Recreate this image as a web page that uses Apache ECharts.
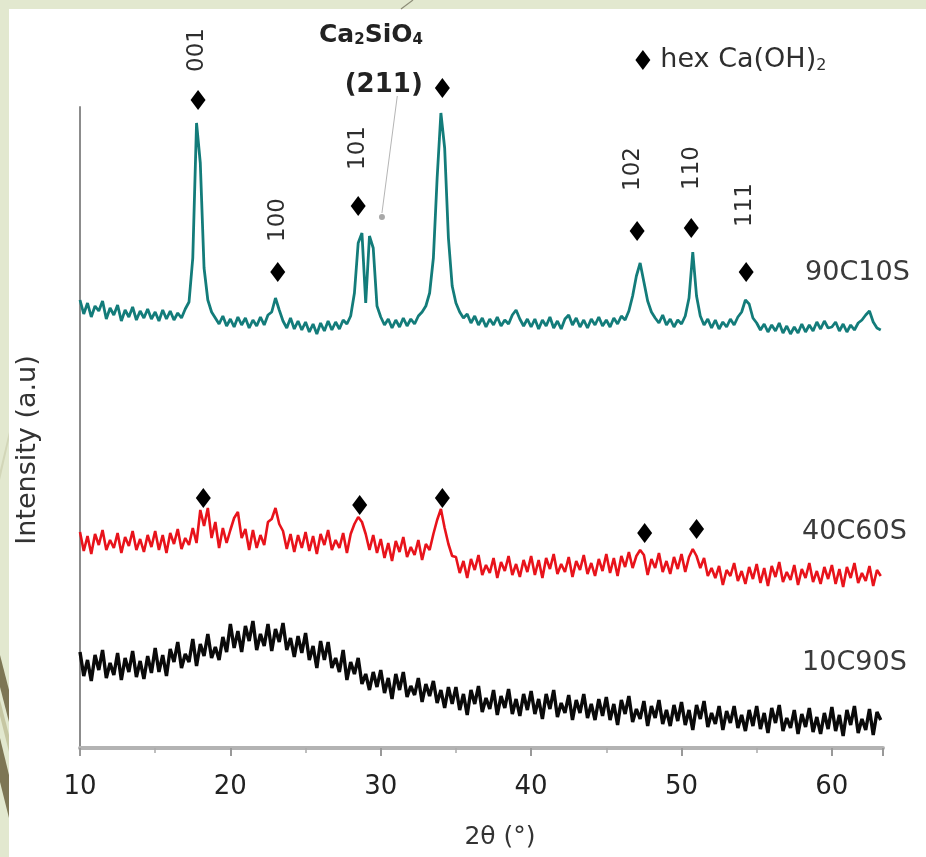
<!DOCTYPE html>
<html>
<head>
<meta charset="utf-8">
<script src="https://cdn.jsdelivr.net/npm/echarts@6/dist/echarts.min.js"></script>
<style>
html,body{margin:0;padding:0;background:#fff;}
#chart{width:926px;height:857px;}
</style>
</head>
<body>
<div id="chart"></div>
<script>
// 2θ sampling (degrees)
const twoTheta = [
10,10.25,10.5,10.75,11,11.25,11.5,11.75,12,12.25,12.5,12.75,13,13.25,13.5,13.75,14,14.25,14.5,14.75,
15,15.25,15.5,15.75,16,16.25,16.5,16.75,17,17.25,17.5,17.75,18,18.25,18.5,18.75,19,19.25,19.5,19.75,
20,20.25,20.5,20.75,21,21.25,21.5,21.75,22,22.25,22.5,22.75,23,23.25,23.5,23.75,24,24.25,24.5,24.75,
25,25.25,25.5,25.75,26,26.25,26.5,26.75,27,27.25,27.5,27.75,28,28.25,28.5,28.75,29,29.25,29.5,29.75,
30,30.25,30.5,30.75,31,31.25,31.5,31.75,32,32.25,32.5,32.75,33,33.25,33.5,33.75,34,34.25,34.5,34.75,
35,35.25,35.5,35.75,36,36.25,36.5,36.75,37,37.25,37.5,37.75,38,38.25,38.5,38.75,39,39.25,39.5,39.75,
40,40.25,40.5,40.75,41,41.25,41.5,41.75,42,42.25,42.5,42.75,43,43.25,43.5,43.75,44,44.25,44.5,44.75,
45,45.25,45.5,45.75,46,46.25,46.5,46.75,47,47.25,47.5,47.75,48,48.25,48.5,48.75,49,49.25,49.5,49.75,
50,50.25,50.5,50.75,51,51.25,51.5,51.75,52,52.25,52.5,52.75,53,53.25,53.5,53.75,54,54.25,54.5,54.75,
55,55.25,55.5,55.75,56,56.25,56.5,56.75,57,57.25,57.5,57.75,58,58.25,58.5,58.75,59,59.25,59.5,59.75,
60,60.25,60.5,60.75,61,61.25,61.5,61.75,62,62.25,62.5,62.75,63,63.25
];

// Intensities (a.u., stacked offsets as in the figure)
const int90C10S = [
448,434,445,431,442,437,447,429,440,433,443,427,438,431,441,428,437,430,439,429,
436,427,438,429,437,428,435,430,439,446,490,625,585,480,448,436,430,424,432,422,
429,421,431,423,430,420,428,422,431,423,433,436,450,438,427,420,430,419,427,418,
426,416,424,414,425,417,427,418,426,419,428,424,432,455,505,515,445,512,500,442,
431,423,429,420,428,421,430,422,429,424,432,436,442,455,490,570,635,600,510,462,
445,436,430,434,425,432,423,430,421,429,423,431,422,428,424,433,438,429,422,429,
421,429,419,428,422,431,420,427,419,429,433,423,430,421,428,420,429,423,431,422,
428,421,430,424,432,428,437,452,472,485,466,447,436,430,425,433,423,429,421,428,
424,432,450,496,452,432,423,429,420,428,419,426,421,429,423,431,436,448,444,430,
425,418,424,416,423,417,425,415,422,414,421,415,424,416,423,417,426,419,427,420,
421,426,417,424,416,423,418,425,428,433,437,426,420,418
];
const int40C60S = [
216,197,212,194,214,203,218,198,208,200,215,195,211,202,217,198,209,196,213,201,
217,198,213,195,215,204,219,199,210,203,220,205,238,222,240,210,226,200,220,205,
218,230,236,210,219,198,218,200,213,203,226,229,240,224,217,199,214,196,213,200,
216,197,212,194,214,203,218,198,208,200,215,195,214,224,231,226,214,198,213,195,
209,190,205,187,207,196,211,191,201,193,208,188,204,198,214,228,239,220,204,192,
191,175,187,170,189,178,193,173,183,175,190,170,186,177,192,173,184,171,188,176,
192,173,188,170,190,179,194,174,184,176,191,171,187,178,193,174,185,172,189,177,
194,175,190,172,192,181,196,180,192,198,193,173,189,180,195,176,187,174,191,179,
194,176,191,199,192,180,190,172,180,170,182,163,178,172,185,167,177,164,181,169,
184,165,180,162,182,171,186,166,176,168,183,163,179,170,185,166,177,164,181,169,
183,164,179,161,181,170,185,165,175,167,182,162,178,172
];
const int10C90S = [
96,72,88,67,93,78,98,70,85,73,95,68,90,76,97,71,87,69,92,75,
100,76,93,72,99,86,106,80,94,86,109,82,104,92,114,90,101,88,111,96,
124,100,117,96,122,107,127,98,114,102,124,97,119,106,125,98,110,91,112,95,
115,88,102,80,107,88,106,80,90,76,98,68,86,74,90,64,74,58,76,61,
78,55,70,49,74,58,76,51,62,53,70,46,64,52,67,45,58,40,61,44,
61,38,54,33,58,44,62,36,50,39,58,33,52,40,59,34,49,32,54,38,
57,34,49,29,54,39,58,31,45,35,53,28,48,35,54,30,44,28,49,32,
51,28,44,23,48,34,52,26,39,29,47,22,42,30,48,24,38,22,43,27,
46,23,38,18,43,29,47,21,35,24,42,18,37,25,42,20,33,17,38,22,
42,19,35,15,40,25,43,17,30,20,38,14,34,21,40,16,31,14,35,19,
41,17,33,12,38,23,42,15,29,18,39,13,36,28
];

const sampleNames = ['90C10S', '40C60S', '10C90S'];
const sampleLabelAt = [[61.7, 475], [61.5, 216], [61.5, 85]];

// hex Ca(OH)2 reflections (diamond markers)
const caohMarks90 = [[17.85, 648], [23.15, 476], [28.5, 542], [34.1, 660], [47.05, 517], [50.65, 520], [54.3, 476]];
const caohMarks40 = [[18.2, 250], [28.6, 243], [34.1, 250], [47.55, 215], [51.0, 219]];
const hklText = ['001', '100', '101', '102', '110', '111'];
const hklAt = [[17.8, 698], [23.15, 528], [28.5, 600], [46.8, 579], [50.7, 580], [54.2, 543]];

// Ca2SiO4 (211) annotation
const ca2sio4Mark = [[30.08, 531]];
const ca2sio4Leader = [[30.08, 535], [31.1, 652]];
const ca2sio4LabelAt = [[29.35, 713], [30.2, 663]];
const legendMark = [[47.43, 688]];
const legendText = 'hex Ca(OH)';

const FONT = 'DejaVu Sans';
const TXT = '#2e2e2e';
const pairs = arr => twoTheta.map((t, i) => [t, arr[i]]);

const chart = echarts.init(document.getElementById('chart'), null, {renderer: 'canvas'});

const option = {
  backgroundColor: '#ffffff',
  animation: false,
  grid: {left: 80, right: 43, top: 107, bottom: 109},
  xAxis: {
    type: 'value', min: 10, max: 63.4, interval: 10,
    axisLine: {show: true, lineStyle: {color: '#b3b3b3', width: 4}},
    axisTick: {show: true, length: 8, lineStyle: {color: '#999', width: 2}},
    minorTick: {show: true, splitNumber: 2, length: 5, lineStyle: {color: '#aaa', width: 1.5}},
    axisLabel: {fontSize: 26, color: '#222', fontFamily: FONT, margin: 26, showMaxLabel: false},
    splitLine: {show: false}
  },
  yAxis: {
    type: 'value', min: 0, max: 641,
    axisLine: {show: true, onZero: false, lineStyle: {color: '#8c8c8c', width: 2}},
    axisTick: {show: false},
    axisLabel: {show: false},
    splitLine: {show: false}
  },
  graphic: {elements: [
    {type: 'rect', shape: {x: 0, y: 0, width: 926, height: 9}, style: {fill: '#e2e8cf'}},
    {type: 'rect', shape: {x: 0, y: 0, width: 9, height: 857}, style: {fill: '#e2e8cf'}},
    {type: 'polygon', shape: {points: [[0, 470], [9, 432], [9, 440], [0, 480]]}, style: {fill: '#d2d6b8'}},
    {type: 'polygon', shape: {points: [[0, 655], [9, 690], [9, 722], [0, 687]]}, style: {fill: '#7d7655'}},
    {type: 'polygon', shape: {points: [[0, 700], [9, 735], [9, 752], [0, 716]]}, style: {fill: '#c6c7a3'}},
    {type: 'polygon', shape: {points: [[0, 738], [9, 775], [9, 818], [0, 782]]}, style: {fill: '#7d7655'}},
    {type: 'line', shape: {x1: 413, y1: 0, x2: 401, y2: 9}, style: {stroke: '#8d8d78', lineWidth: 1.2}},
    {type: 'text', x: 28, y: 450, rotation: Math.PI / 2,
      style: {text: 'Intensity (a.u)', fontSize: 27, fontFamily: FONT, fill: '#333', align: 'center', verticalAlign: 'middle'}},
    {type: 'text', x: 500, y: 837,
      style: {text: '2θ (°)', fontSize: 25, fontFamily: FONT, fill: '#333', align: 'center', verticalAlign: 'middle'}}
  ]},
  series: [
    {name: sampleNames[2], type: 'line', data: pairs(int10C90S), showSymbol: false, silent: true,
      lineStyle: {color: '#0a0a0a', width: 3.4}, z: 2},
    {name: sampleNames[1], type: 'line', data: pairs(int40C60S), showSymbol: false, silent: true,
      lineStyle: {color: '#e8131b', width: 2.6}, z: 3},
    {name: sampleNames[0], type: 'line', data: pairs(int90C10S), showSymbol: false, silent: true,
      lineStyle: {color: '#137c7a', width: 2.8}, z: 4},
    {type: 'line', data: ca2sio4Leader, showSymbol: false, silent: true, clip: false,
      lineStyle: {color: '#b5b5b5', width: 1}, z: 5},
    {type: 'scatter', data: ca2sio4Mark, symbol: 'circle', symbolSize: 6, silent: true, clip: false,
      itemStyle: {color: '#a8a8a8', opacity: 1}, z: 6},
    {type: 'scatter', data: caohMarks90.concat(caohMarks40), symbol: 'diamond', symbolSize: [15, 20],
      silent: true, clip: false, itemStyle: {color: '#000', opacity: 1}, z: 7},
    {type: 'scatter', data: legendMark, symbol: 'diamond', symbolSize: [15, 20], silent: true, clip: false,
      itemStyle: {color: '#000', opacity: 1}, z: 7,
      label: {show: true, position: 'right', distance: 10, opacity: 1, formatter: '{n|' + legendText + '}{s|2}',
        rich: {n: {fontSize: 27, fontFamily: FONT, color: TXT},
               s: {fontSize: 16, fontFamily: FONT, color: TXT, verticalAlign: 'bottom'}}}},
    {type: 'scatter', symbolSize: 0, silent: true, clip: false, z: 8, itemStyle: {opacity: 1},
      data: hklAt.map((p, i) => ({value: p, label: {formatter: hklText[i]}})),
      label: {show: true, position: 'inside', rotate: 90, opacity: 1, fontSize: 23, fontFamily: FONT, color: TXT}},
    {type: 'scatter', symbolSize: 0, silent: true, clip: false, z: 8, itemStyle: {opacity: 1},
      data: sampleLabelAt.map((p, i) => ({value: p, label: {formatter: sampleNames[i]}})),
      label: {show: true, position: 'inside', opacity: 1, fontSize: 27, fontFamily: FONT, color: '#3a3a3a'}},
    {type: 'scatter', symbolSize: 0, silent: true, clip: false, z: 8, itemStyle: {opacity: 1},
      data: [
        {value: ca2sio4LabelAt[0], label: {formatter: '{b|Ca}{s|2}{b|SiO}{s|4}'}},
        {value: ca2sio4LabelAt[1], label: {formatter: '{p|(211)}'}}
      ],
      label: {show: true, position: 'inside', opacity: 1,
        rich: {b: {fontSize: 25, fontWeight: 'bold', fontFamily: FONT, color: '#222'},
               s: {fontSize: 15, fontWeight: 'bold', fontFamily: FONT, color: '#222', verticalAlign: 'bottom'},
               p: {fontSize: 26, fontWeight: 'bold', fontFamily: FONT, color: '#222'}}}}
  ]
};
chart.setOption(option);
</script>
</body>
</html>
